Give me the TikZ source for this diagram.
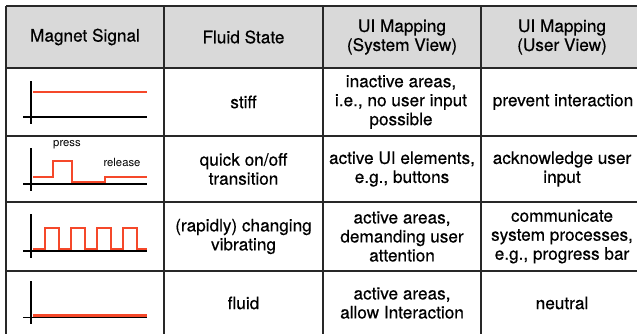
\documentclass[tikz,border=0pt]{standalone}
\usepackage{fontspec}
\setmainfont{TeX Gyre Heros}
\newfontfamily\medfont{TeX Gyre Heros}[BoldFont={TeX Gyre Heros},BoldFeatures={FakeBold=0.45}]
\definecolor{sigred}{RGB}{245,72,42}
\definecolor{hdrgray}{RGB}{217,217,217}
\definecolor{gridcol}{RGB}{40,40,40}
\begin{document}
\begin{tikzpicture}[x=1pt,y=-1pt,
  cell/.style={align=center,font=\medfont\bfseries\fontsize{17.2}{19}\selectfont,inner sep=0pt},
  small/.style={font=\fontsize{11.3}{12}\selectfont,inner sep=0pt},
  grid/.style={draw=gridcol,line width=1.2pt},
  axis/.style={draw=black,line width=1.5pt},
  sig/.style={draw=sigred,line width=1.3pt,line join=miter},
  sigthick/.style={draw=sigred,line width=3pt}]
\useasboundingbox (0,0) rectangle (637,333);
% header fill
\fill[hdrgray] (6,6) rectangle (650,68);
% grid lines
\draw[grid] (6,6) -- (650,6);
\draw[grid] (6,68) -- (650,68);
\draw[grid] (6,136) -- (650,136);
\draw[grid] (6,202) -- (650,202);
\draw[grid] (6,271) -- (650,271);
\draw[grid] (6,6) -- (6,345);
\draw[grid] (164,6) -- (164,345);
\draw[grid] (323,6) -- (323,345);
\draw[grid] (481,6) -- (481,345);
% header
\node[cell] (h1) at (85,37) {Magnet Signal};
\node[cell] (h2) at (243.5,37) {Fluid State};
\node[cell] (h3) at (402,37) {UI Mapping\\(System View)};
\node[cell] (h4) at (562,37) {UI Mapping\\(User View)};
% row 1
\node[cell] (r1b) at (243.5,102) {stiff};
\node[cell] (r1c) at (401,102) {inactive areas,\\i.e., no user input\\possible};
\node[cell] (r1d) at (563,102) {prevent interaction};
% row 2
\node[cell] (r2b) at (243.5,169) {quick on/off\\transition};
\node[cell] (r2c) at (402,169) {active UI elements,\\e.g., buttons};
\node[cell] (r2d) at (562,169) {acknowledge user\\input};
% row 3
\node[cell] (r3b) at (243.5,236.5) {(rapidly) changing\\vibrating};
\node[cell] (r3c) at (402,236.5) {active areas,\\demanding user\\attention};
\node[cell] (r3d) at (562,236.5) {communicate\\system processes,\\e.g., progress bar};
% row 4
\node[cell] (r4b) at (243.5,303) {fluid};
\node[cell] (r4c) at (402,303) {active areas,\\allow Interaction};
\node[cell] (r4d) at (562,303) {neutral};
% signal 1
\draw[sig] (33,92) -- (147,92);
\draw[axis] (31,81) -- (31,124);
\draw[axis] (23,117) -- (147,117);
% signal 2
\draw[sig] (33,177) -- (53,177) -- (53,161) -- (72,161) -- (72,182) -- (105,182) -- (105,177) -- (147,177);
\draw[axis] (31,148) -- (31,191);
\draw[axis] (23,184) -- (147,184);
\node[small] (press) at (67,145) {press};
\node[small] (release) at (122,162) {release};
% signal 3
\draw[sig] (33,249) -- (45,249) -- (45,228) -- (59,228) -- (59,249) -- (71,249) -- (71,228) -- (85,228) -- (85,249) -- (97,249) -- (97,228) -- (111,228) -- (111,249) -- (123,249) -- (123,228) -- (137,228) -- (137,249) -- (147,249);
\draw[axis] (31,214) -- (31,258);
\draw[axis] (23,251) -- (147,251);
% signal 4
\draw[sigthick] (33,315) -- (147,315);
\draw[axis] (31,281) -- (31,324);
\draw[axis] (23,317.5) -- (147,317.5);
\end{tikzpicture}
\end{document}
